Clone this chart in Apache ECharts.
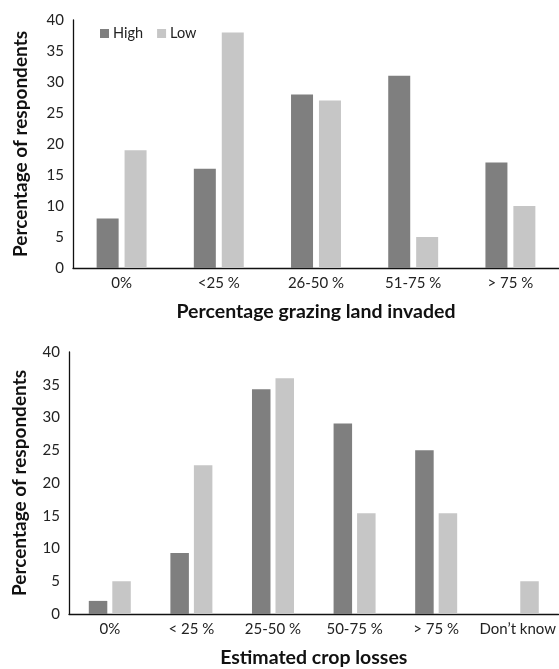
<!DOCTYPE html>
<html><head><meta charset="utf-8">
<script src="https://cdn.jsdelivr.net/npm/echarts@6/dist/echarts.min.js"></script>
<style>html,body{margin:0;padding:0;background:#fff}#c{width:559px;height:669px}</style>
</head><body><div id="c"></div>
<script>
const catsTop = ['0%', '<25 %', '26-50 %', '51-75 %', '> 75 %'];
const highTop = [8, 16, 28, 31, 17];
const lowTop = [19, 38, 27, 5, 10];
const catsBot = ['0%', '< 25 %', '25-50 %', '50-75 %', '> 75 %', 'Don\u2019t know'];
const highBot = [2, 9.3, 34.3, 29.1, 25, 0];
const lowBot = [5, 22.7, 36, 15.4, 15.4, 5];
const yTicks = [0, 5, 10, 15, 20, 25, 30, 35, 40];

const FONT = 'Lato';
const cHigh = '#7f7f7f', cLow = '#c6c6c6';
const chart = echarts.init(document.getElementById('c'));
function xAxis(idx, cats, title) {
  return {
    type: 'category', gridIndex: idx, data: cats,
    axisLine: {lineStyle: {color: '#111', width: 1.3}},
    axisTick: {show: false},
    axisLabel: {color: '#222', fontFamily: FONT, fontSize: 15, margin: 8, interval: 0},
    name: title, nameLocation: 'middle', nameGap: 34,
    nameTextStyle: {color: '#111', fontFamily: FONT, fontSize: 19.5, fontWeight: 'bold'}
  };
}
function yAxis(idx, gap) {
  return {
    type: 'value', gridIndex: idx, min: yTicks[0], max: yTicks[yTicks.length - 1], interval: 5,
    axisLine: {show: true, lineStyle: {color: '#111', width: 1.3}},
    axisTick: {show: false}, splitLine: {show: false},
    axisLabel: {color: '#222', fontFamily: FONT, fontSize: 15, margin: 9},
    name: 'Percentage of respondents', nameLocation: 'middle', nameGap: gap,
    nameTextStyle: {color: '#111', fontFamily: FONT, fontSize: 19, fontWeight: 'bold'}
  };
}
chart.setOption({
  animation: false,
  textStyle: {fontFamily: FONT},
  legend: {
    data: ['High', 'Low'], left: 95, top: 21, itemWidth: 9, itemHeight: 9, itemGap: 14,
    textStyle: {color: '#222', fontFamily: FONT, fontSize: 14.5, padding: [0, 0, 0, -1]}, icon: 'rect'
  },
  grid: [
    {left: 73, right: 0, top: 20, height: 248},
    {left: 69, right: 0, top: 352, height: 264}
  ],
  xAxis: [xAxis(0, catsTop, 'Percentage grazing land invaded'), xAxis(1, catsBot, 'Estimated crop losses')],
  yAxis: [yAxis(0, 43), yAxis(1, 40)],
  series: [
    {name: 'High', type: 'bar', xAxisIndex: 0, yAxisIndex: 0, data: highTop, barWidth: 22, barGap: '27%', itemStyle: {color: cHigh}},
    {name: 'Low', type: 'bar', xAxisIndex: 0, yAxisIndex: 0, data: lowTop, barWidth: 22, barGap: '27%', itemStyle: {color: cLow}},
    {name: 'High', type: 'bar', xAxisIndex: 1, yAxisIndex: 1, data: highBot, barWidth: 18.5, barGap: '27%', itemStyle: {color: cHigh}},
    {name: 'Low', type: 'bar', xAxisIndex: 1, yAxisIndex: 1, data: lowBot, barWidth: 18.5, barGap: '27%', itemStyle: {color: cLow}}
  ]
});
</script></body></html>
